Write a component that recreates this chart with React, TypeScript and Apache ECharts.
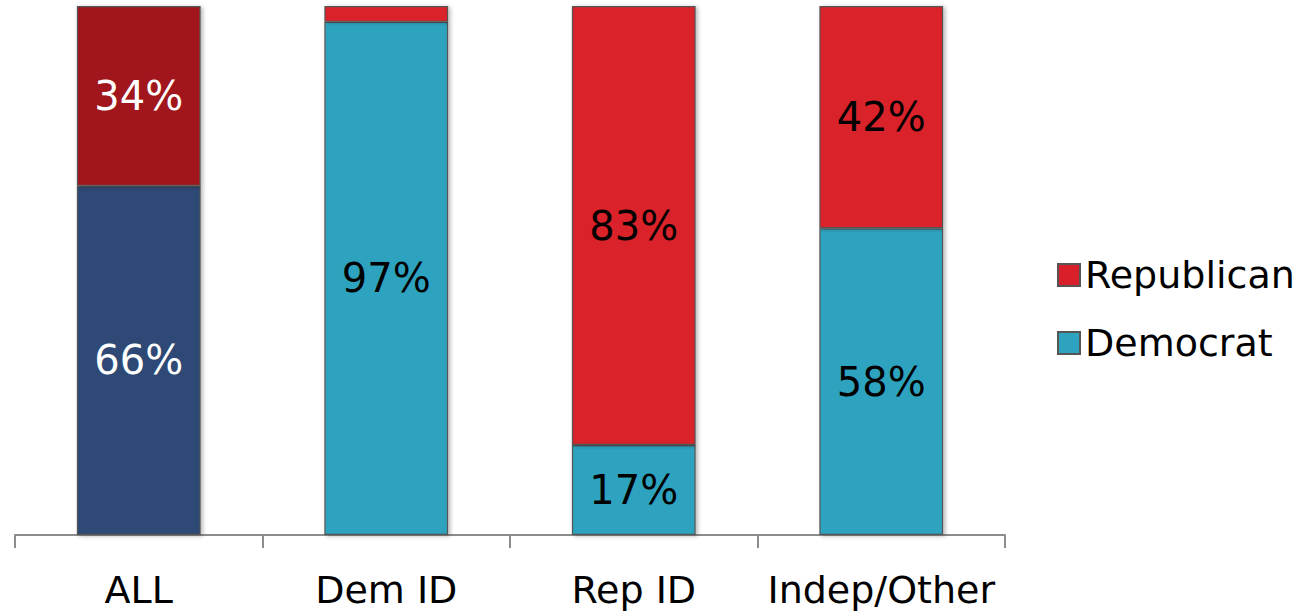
import React, { useEffect, useRef } from "react";
import * as echarts from "echarts";

const categories = ["ALL", "Dem ID", "Rep ID", "Indep/Other"];
const democrat = [66, 97, 17, 58];
const republican = [34, 3, 83, 42];
const demLabels = ["66%", "97%", "17%", "58%"];
const repLabels = ["34%", "", "83%", "42%"];

const FONT = "DejaVu Sans";

export default function App() {
  const ref = useRef<HTMLDivElement>(null);
  useEffect(() => {
    const chart = echarts.init(ref.current!, null, { renderer: "svg" });
    const border = { borderColor: "#555", borderWidth: 1.2, shadowBlur: 4, shadowColor: "rgba(0,0,0,0.3)", shadowOffsetX: 2, shadowOffsetY: 1 };
    chart.setOption({
      animation: false,
      textStyle: { fontFamily: FONT },
      grid: { left: 15, right: 306, top: 6, bottom: 80 },
      legend: {
        data: ["Republican", "Democrat"],
        orient: "vertical",
        left: 1052,
        top: 251,
        itemWidth: 22,
        itemHeight: 22,
        itemGap: 30,
        icon: "rect",
        textStyle: { fontSize: 38, color: "#000", fontFamily: FONT, padding: [0, 0, 0, 0] },
      },
      xAxis: {
        type: "category",
        data: categories,
        axisLine: { lineStyle: { color: "#8c8c8c", width: 2 } },
        axisTick: { show: true, interval: 0, length: 13, lineStyle: { color: "#8c8c8c", width: 2 } },
        axisLabel: { fontSize: 38, color: "#000", margin: 36, fontFamily: FONT, interval: 0 },
      },
      yAxis: { type: "value", min: 0, max: 100, show: false },
      series: [
        {
          name: "Democrat",
          type: "bar",
          stack: "total",
          barWidth: "50%",
          itemStyle: { color: "#2ea3bf", ...border },
          label: {
            show: true,
            position: "inside",
            fontSize: 40,
            fontFamily: FONT,
            formatter: (p: any) => demLabels[p.dataIndex],
          },
          data: democrat.map((v, i) => ({
            value: v,
            itemStyle: i === 0 ? { color: "#2d4a74" } : undefined,
            label: { color: i === 0 ? "#fff" : "#000" },
          })),
        },
        {
          name: "Republican",
          type: "bar",
          stack: "total",
          barWidth: "50%",
          itemStyle: { color: "#d9202a", ...border },
          label: {
            show: true,
            position: "inside",
            fontSize: 40,
            fontFamily: FONT,
            formatter: (p: any) => repLabels[p.dataIndex],
          },
          data: republican.map((v, i) => ({
            value: v,
            itemStyle: i === 0 ? { color: "#a0171f" } : undefined,
            label: { color: i === 0 ? "#fff" : "#000" },
          })),
        },
      ],
    });
    return () => chart.dispose();
  }, []);
  return <div ref={ref} style={{ width: 1311, height: 615, position: "absolute", left: 0, top: 0 }} />;
}
